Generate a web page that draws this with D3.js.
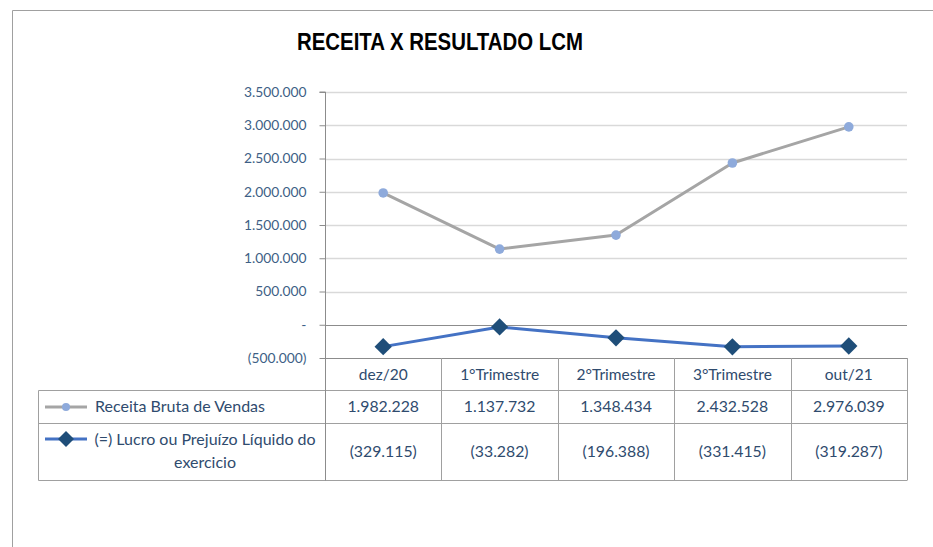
<!DOCTYPE html>
<html><head><meta charset="utf-8">
<script src="https://cdn.jsdelivr.net/npm/d3@7"></script>
<style>body{margin:0;background:#fff}svg{display:block}</style>
</head><body><svg id="c" width="933" height="547"></svg>
<script>
const categories = ["dez/20","1°Trimestre","2°Trimestre","3°Trimestre","out/21"];
const receita = [1982228,1137732,1348434,2432528,2976039];
const lucro = [-329115,-33282,-196388,-331415,-319287];
const yTicks = [-500000,0,500000,1000000,1500000,2000000,2500000,3000000,3500000];
const seriesNames = ["Receita Bruta de Vendas","(=) Lucro ou Prejuízo Líquido do|exercicio"];

const svg = d3.select("#c");
const font = "Lato, 'Open Sans', sans-serif";
const txt = "#2f4b6e";
const fmt = v => { if (v===0) return "-"; const s = d3.format(",")(Math.abs(v)).replace(/,/g,"."); return v<0?"("+s+")":s; };

// outer frame
svg.append("path").attr("d","M12.5,547 V10.5 H933").attr("fill","none").attr("stroke","#a0a0a0").attr("stroke-width",1);

// title
svg.append("text").attr("x",297).attr("y",50)
  .attr("font-family","'Liberation Sans', Arial, sans-serif").attr("font-weight","bold")
  .attr("font-size",24).attr("fill","#000")
  .attr("textLength",286).attr("lengthAdjust","spacingAndGlyphs")
  .text("RECEITA X RESULTADO LCM");

const x = d3.scaleBand().domain(categories).range([325,907]);
const y = d3.scaleLinear().domain([-500000,3500000]).range([358,92]);

// gridlines
svg.append("g").selectAll("line").data(yTicks.filter(t=>t>-500000)).join("line")
  .attr("x1",325).attr("x2",907).attr("y1",d=>Math.round(y(d))+0.5).attr("y2",d=>Math.round(y(d))+0.5)
  .attr("stroke",d=>d===0?"#8c8c8c":"#d9d9d9").attr("stroke-width",d=>d===0?1:1.5);

// y axis
const ya = svg.append("g").attr("transform","translate(325.5,0)")
  .call(d3.axisLeft(y).tickValues(yTicks).tickFormat(fmt).tickSize(6).tickPadding(13));
ya.select(".domain").attr("stroke","#8c8c8c").attr("d","M-6,"+y(3500000)+"H0V"+y(-500000));
ya.selectAll(".tick line").attr("stroke","#8c8c8c");
ya.selectAll(".tick text").attr("font-family",font).attr("font-size",13.8).attr("fill","#3e5f86");

// table
const rows = [358,390,423,480];
const tg = svg.append("g").attr("stroke","#a0a0a0").attr("stroke-width",1).attr("fill","none");
tg.append("line").attr("x1",325).attr("x2",907).attr("y1",rows[0]+0.5).attr("y2",rows[0]+0.5).attr("stroke","#8c8c8c");
[rows[1],rows[2],rows[3]].forEach(r=>tg.append("line").attr("x1",38.5).attr("x2",907).attr("y1",r+0.5).attr("y2",r+0.5));
tg.append("line").attr("x1",38.5).attr("x2",38.5).attr("y1",rows[1]+0.5).attr("y2",rows[3]+0.5);
tg.append("line").attr("x1",325.5).attr("x2",325.5).attr("y1",rows[0]).attr("y2",rows[3]+0.5).attr("stroke","#8c8c8c");
categories.forEach(c=>{const xe=Math.round(x(c)+x.bandwidth())+0.5;
  tg.append("line").attr("x1",xe).attr("x2",xe).attr("y1",rows[0]).attr("y2",rows[3]+0.5);});

// category labels
svg.append("g").selectAll("text").data(categories).join("text")
  .attr("x",d=>x(d)+x.bandwidth()/2).attr("y",380).attr("text-anchor","middle")
  .attr("font-family",font).attr("font-size",15.5).attr("fill",txt).text(d=>d);
// values
svg.append("g").selectAll("text").data(receita).join("text")
  .attr("x",(d,i)=>x(categories[i])+x.bandwidth()/2).attr("y",412).attr("text-anchor","middle")
  .attr("font-family",font).attr("font-size",15.8).attr("fill",txt).text(fmt);
svg.append("g").selectAll("text").data(lucro).join("text")
  .attr("x",(d,i)=>x(categories[i])+x.bandwidth()/2).attr("y",457).attr("text-anchor","middle")
  .attr("font-family",font).attr("font-size",15.8).attr("fill",txt).text(fmt);

// legend in table
svg.append("line").attr("x1",45).attr("x2",87).attr("y1",407).attr("y2",407).attr("stroke","#a5a5a5").attr("stroke-width",3);
svg.append("circle").attr("cx",66).attr("cy",407).attr("r",4).attr("fill","#8eaadb");
svg.append("text").attr("x",95).attr("y",412).attr("font-family",font).attr("font-size",16).attr("fill",txt).text(seriesNames[0]);
svg.append("line").attr("x1",45).attr("x2",87).attr("y1",439).attr("y2",439).attr("stroke","#4472c4").attr("stroke-width",3);
svg.append("path").attr("d",d3.symbol().type(d3.symbolSquare).size(128)()).attr("transform","translate(66,439) rotate(45)").attr("fill","#1f4e79");
const l2 = seriesNames[1].split("|");
svg.append("text").attr("x",205).attr("y",445).attr("text-anchor","middle").attr("font-family",font).attr("font-size",16).attr("fill",txt).text(l2[0]);
svg.append("text").attr("x",205).attr("y",468).attr("text-anchor","middle").attr("font-family",font).attr("font-size",16).attr("fill",txt).text(l2[1]);

// lines
const cx = i => x(categories[i])+x.bandwidth()/2;
const line = d3.line().x((d,i)=>cx(i)).y(d=>y(d));
svg.append("path").datum(receita).attr("d",line).attr("fill","none").attr("stroke","#a5a5a5").attr("stroke-width",3).attr("stroke-linejoin","round");
svg.append("g").selectAll("circle").data(receita).join("circle").attr("cx",(d,i)=>cx(i)).attr("cy",d=>y(d)).attr("r",4.8).attr("fill","#8eaadb");
svg.append("path").datum(lucro).attr("d",line).attr("fill","none").attr("stroke","#4472c4").attr("stroke-width",3).attr("stroke-linejoin","round");
svg.append("g").selectAll("path").data(lucro).join("path").attr("d",d3.symbol().type(d3.symbolSquare).size(150)())
  .attr("transform",(d,i)=>`translate(${cx(i)},${y(d)}) rotate(45)`).attr("fill","#1f4e79");
</script></body></html>
